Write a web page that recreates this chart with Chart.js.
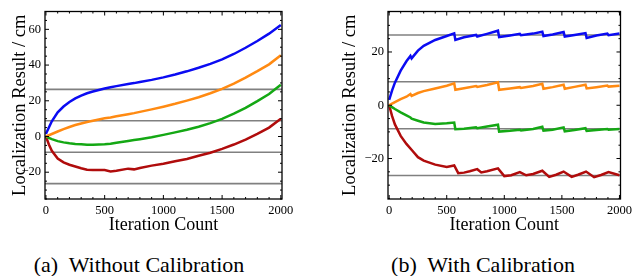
<!DOCTYPE html>
<html>
<head>
<meta charset="utf-8">
<script src="https://cdn.jsdelivr.net/npm/chart.js@4.4.1/dist/chart.umd.min.js"></script>
<style>
  body { margin: 0; background: #fff; width: 636px; height: 276px; position: relative; overflow: hidden; }
  canvas { position: absolute; top: 0; }
  .caption { position: absolute; top: 254px; font-family: 'Liberation Serif'; font-size: 22px; line-height: 22px; white-space: pre; transform: translateX(-50%); color: #000; }
</style>
</head>
<body>
<canvas id="leftChart" width="300" height="239" style="left:0"></canvas>
<canvas id="rightChart" width="318" height="239" style="left:318px"></canvas>
<div class="caption" style="left:139px">(a)  Without Calibration</div>
<div class="caption" style="left:483px">(b)  With Calibration</div>
<script>
// Reference levels (gray lines)
const refLevels = [26.4, 8.8, -8.8, -26.4];

// Tick labels
const xMajor = [0, 500, 1000, 1500, 2000];
const yMajorLeft = [-20, 0, 20, 40, 60];
const yMajorRight = [-20, 0, 20];

// (a) Without Calibration
const iterA = [0, 25, 50, 100, 150, 200, 250, 300, 350, 400, 500, 550, 600, 700, 750, 800, 900, 1000, 1100, 1200, 1300, 1400, 1500, 1600, 1700, 1800, 1900, 2000];
const blueA = [1.5, 5, 8.5, 13.5, 16.8, 19.3, 21.3, 22.9, 24.2, 25.2, 26.9, 27.6, 28.2, 29.4, 29.9, 30.5, 31.7, 33.1, 34.7, 36.5, 38.5, 40.7, 43.2, 46.2, 49.7, 53.5, 57.6, 62.5];
const orangeA = [0, 0.7, 1.4, 2.8, 4.1, 5.3, 6.4, 7.3, 8.1, 8.8, 10.2, 10.7, 11.3, 12.5, 13.1, 13.8, 15.2, 16.7, 18.3, 20.1, 22.0, 24.2, 26.7, 29.6, 33.0, 36.6, 40.4, 45.5];
const greenA = [0, -0.8, -1.5, -2.6, -3.3, -3.8, -4.2, -4.4, -4.6, -4.6, -4.3, -4.0, -3.5, -2.5, -2.0, -1.5, -0.4, 0.9, 2.3, 3.8, 5.5, 7.5, 9.9, 12.8, 16.0, 19.8, 23.8, 29.0];
const redA = [0, -4.5, -8, -12.3, -14.5, -15.8, -16.8, -17.8, -18.6, -18.8, -18.8, -19.6, -19.2, -18.0, -18.4, -17.6, -16.3, -15.3, -13.9, -12.6, -10.8, -9.1, -6.9, -4.5, -1.7, 1.5, 5.0, 10.0];

// (b) With Calibration
const iterB = [0, 25, 50, 100, 150, 185, 195, 250, 300, 400, 500, 565, 575, 650, 755, 765, 850, 945, 955, 1050, 1135, 1145, 1250, 1330, 1340, 1420, 1515, 1525, 1610, 1705, 1715, 1800, 1895, 1905, 2000];
const blueB = [2, 5.5, 8.5, 13, 16.5, 18.5, 17.6, 20.5, 22.3, 24.5, 26, 27, 24.5, 25.5, 26.4, 25.8, 26.8, 28, 25.6, 26.2, 26.8, 26.3, 26.9, 27.6, 26, 26.6, 27.5, 25.8, 26.4, 27.1, 25.3, 26.2, 26.9, 26.3, 26.9];
const orangeB = [0, 0.6, 1.2, 2.3, 3.2, 4.2, 3.5, 4.6, 5.3, 6.3, 7.3, 8.2, 5.8, 6.4, 7.2, 6.9, 7.6, 8.6, 5.8, 6.3, 6.8, 6.5, 7.2, 8.1, 6.2, 6.8, 7.7, 6.2, 6.9, 7.7, 6.3, 6.8, 7.4, 7.0, 7.3];
const greenB = [0, -0.7, -1.4, -2.7, -3.8, -4.6, -5.0, -5.8, -6.5, -7.0, -6.8, -6.5, -9.0, -8.8, -8.3, -8.6, -8.0, -7.3, -9.9, -9.6, -9.2, -9.5, -8.9, -8.1, -9.5, -9.2, -8.3, -9.8, -9.3, -8.6, -9.6, -9.3, -8.9, -9.2, -8.9];
const redIterB = [0, 25, 50, 100, 150, 200, 250, 300, 400, 500, 565, 600, 650, 700, 765, 800, 850, 945, 1000, 1060, 1135, 1190, 1250, 1330, 1390, 1450, 1515, 1585, 1640, 1710, 1780, 1840, 1905, 2000];
const redB = [0, -4, -7.2, -11.5, -14.5, -17, -19.5, -20.8, -22.3, -23.2, -22.6, -25.5, -25.3, -24.8, -24.0, -25.2, -24.8, -23.7, -26.6, -26.3, -25.1, -26.3, -25.8, -24.6, -26.9, -26.1, -24.9, -26.9, -26.1, -24.9, -27, -26.2, -25.1, -26.3];

const COLORS = { blue: '#0b0bf2', orange: '#ff8a12', green: '#14a814', red: '#b00c0c', gray: '#808080' };
const FONT = 'Liberation Serif';

function zip(xs, ys) {
  return xs.map((x, i) => ({ x: x, y: ys[i] }));
}

function series(xs, ys, color) {
  return { data: zip(xs, ys), borderColor: color, borderWidth: 2.5, pointRadius: 0, tension: 0, fill: false };
}

function refLine(level, xmin, xmax) {
  return { data: [{ x: xmin, y: level }, { x: xmax, y: level }], borderColor: COLORS.gray, borderWidth: 1.6, pointRadius: 0, fill: false };
}

// frame with inward ticks, Mathematica style
const frameTicks = {
  id: 'frameTicks',
  afterDatasetsDraw(chart) {
    const { ctx, chartArea: a, scales: { x, y } } = chart;
    ctx.save();
    ctx.strokeStyle = '#000';
    ctx.lineWidth = 1;
    ctx.beginPath();
    for (let v = 0; v <= 2000; v += 100) {
      const px = x.getPixelForValue(v);
      const len = v % 500 === 0 ? 4 : 2;
      ctx.moveTo(px, a.bottom); ctx.lineTo(px, a.bottom - len);
      ctx.moveTo(px, a.top); ctx.lineTo(px, a.top + len);
    }
    for (let v = Math.ceil(y.min / 5) * 5; v <= y.max; v += 5) {
      const py = y.getPixelForValue(v);
      const len = v % 20 === 0 ? 4 : 2;
      ctx.moveTo(a.left, py); ctx.lineTo(a.left + len, py);
      ctx.moveTo(a.right, py); ctx.lineTo(a.right - len, py);
    }
    ctx.stroke();
    ctx.lineWidth = 1.3;
    ctx.strokeRect(a.left, a.top, a.right - a.left, a.bottom - a.top);
    ctx.restore();
  }
};

function makeChart(id, datasets, opt) {
  return new Chart(document.getElementById(id), {
    type: 'line',
    data: { datasets: datasets },
    plugins: [frameTicks],
    options: {
      responsive: false,
      animation: false,
      layout: { padding: { top: 1, right: opt.padRight, left: 0, bottom: 0 } },
      plugins: { legend: { display: false }, tooltip: { enabled: false } },
      scales: {
        x: {
          type: 'linear',
          min: opt.xMin,
          max: opt.xMax,
          grid: { display: false, drawTicks: false, tickLength: 0 },
          border: { display: false },
          afterBuildTicks: s => { s.ticks = xMajor.map(v => ({ value: v })); },
          afterFit: s => { s.height = 40; },
          ticks: { color: '#000', font: { family: FONT, size: 12.5 }, padding: 4, maxRotation: 0, autoSkip: false, callback: v => String(v) },
          title: { display: true, text: 'Iteration Count', color: '#000', font: { family: FONT, size: 18 }, padding: { top: 0, bottom: 3 } }
        },
        y: {
          min: opt.yMin,
          max: opt.yMax,
          grid: { display: false, drawTicks: false, tickLength: 0 },
          border: { display: false },
          afterBuildTicks: s => { s.ticks = opt.yMajor.map(v => ({ value: v })); },
          afterFit: s => { s.width = opt.yWidth; },
          ticks: { color: '#000', font: { family: FONT, size: 12.5 }, padding: 4, callback: v => String(v).replace('-', '\u2212') },
          title: { display: true, text: 'Localization Result / cm', color: '#000', font: { family: FONT, size: 18.5 }, padding: { top: opt.yTitlePad, bottom: 0 } }
        }
      }
    }
  });
}

makeChart('leftChart', [
  series(iterA, blueA, COLORS.blue),
  series(iterA, orangeA, COLORS.orange),
  series(iterA, greenA, COLORS.green),
  series(iterA, redA, COLORS.red)
].concat(refLevels.map(l => refLine(l, -8, 2010))), {
  xMin: -8, xMax: 2010, yMin: -35, yMax: 70, yMajor: yMajorLeft, yWidth: 45, padRight: 18, yTitlePad: 9
});

makeChart('rightChart', [
  series(iterB, blueB, COLORS.blue),
  series(iterB, orangeB, COLORS.orange),
  series(iterB, greenB, COLORS.green),
  series(redIterB, redB, COLORS.red)
].concat(refLevels.map(l => refLine(l, -10, 2009))), {
  xMin: -10, xMax: 2009, yMin: -35.2, yMax: 35.2, yMajor: yMajorRight, yWidth: 70, padRight: 10, yTitlePad: 21.5
});
</script>
</body>
</html>
